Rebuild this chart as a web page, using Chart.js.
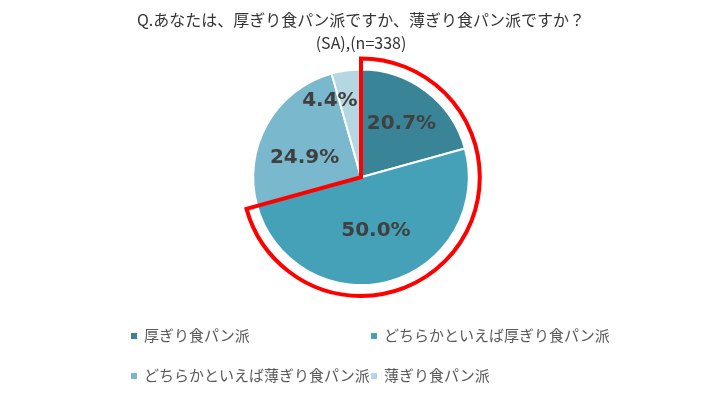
<!DOCTYPE html>
<html>
<head>
<meta charset="utf-8">
<script src="https://cdn.jsdelivr.net/npm/chart.js@4/dist/chart.umd.min.js"></script>
<style>
  body { margin: 0; background: #fff; }
  #wrap { position: relative; width: 720px; height: 405px; }
  #legend { position: absolute; left: 0; top: 0; width: 720px; height: 405px; pointer-events: none;
    font-family: "Noto Sans CJK JP", sans-serif; font-size: 15px; color: #595959; }
  .item { position: absolute; white-space: nowrap; line-height: 20px; }
  .box { display: inline-block; width: 6px; height: 6px; margin-right: 7px; vertical-align: middle; position: relative; top: -1px; }
</style>
</head>
<body>
<div id="wrap">
  <canvas id="myChart" width="720" height="405"></canvas>
  <div id="legend"></div>
</div>
<script>
'use strict'

const categories = ['厚ぎり食パン派', 'どちらかといえば厚ぎり食パン派', 'どちらかといえば薄ぎり食パン派', '薄ぎり食パン派'];
const shares = [20.7, 50.0, 24.9, 4.4];
const sliceColors = ['#3A8497', '#45A1B7', '#7AB8CE', '#B5D7E1'];
const titleLines = ['Q.あなたは、厚ぎり食パン派ですか、薄ぎり食パン派ですか？', '(SA),(n=338)'];

// where the labels sit, as a fraction of the radius, plus a nudge
const labelSpots = [
  { r: 0.62, dx: 0, dy: 0 },
  { r: 0.52, dx: 0, dy: 0 },
  { r: 0.6, dx: 0, dy: 12 },
  { r: 0.75, dx: -20, dy: 4 }
];

const pieExtras = {
  id: 'pieExtras',
  afterDatasetsDraw(chart) {
    const ctx = chart.ctx;
    const arcs = chart.getDatasetMeta(0).data;

    // red frame round the two "thick" slices
    const first = arcs[0];
    const second = arcs[1];
    const R = first.outerRadius + 11;
    ctx.save();
    ctx.beginPath();
    ctx.moveTo(first.x, first.y);
    ctx.arc(first.x, first.y, R, first.startAngle, second.endAngle);
    ctx.closePath();
    ctx.lineWidth = 4;
    ctx.lineJoin = 'miter';
    ctx.strokeStyle = '#FF0000';
    ctx.stroke();

    // percent labels
    ctx.font = 'bold 20px "DejaVu Sans", sans-serif';
    ctx.fillStyle = '#404040';
    ctx.textAlign = 'center';
    ctx.textBaseline = 'middle';
    arcs.forEach((arc, i) => {
      const mid = (arc.startAngle + arc.endAngle) / 2;
      const spot = labelSpots[i];
      const lx = arc.x + Math.cos(mid) * arc.outerRadius * spot.r + spot.dx;
      const ly = arc.y + Math.sin(mid) * arc.outerRadius * spot.r + spot.dy;
      ctx.fillText(shares[i].toFixed(1) + '%', lx, ly);
    });
    ctx.restore();
  }
};

const ctx = document.getElementById('myChart').getContext('2d');
const myChart = new Chart(ctx, {
  type: 'pie',
  data: {
    labels: categories,
    datasets: [{
      data: shares,
      backgroundColor: sliceColors,
      borderColor: '#ffffff',
      borderWidth: 2
    }]
  },
  options: {
    responsive: false,
    animation: false,
    layout: { padding: { top: 0, bottom: 119, left: 2, right: 0 } },
    plugins: {
      legend: { display: false },
      tooltip: { enabled: false },
      title: {
        display: true,
        text: titleLines,
        color: '#333333',
        font: { family: '"Noto Sans CJK JP", sans-serif', size: 16, weight: 'normal', lineHeight: 1.45 },
        padding: { top: 8, bottom: 14 }
      }
    }
  },
  plugins: [pieExtras]
});

// legend laid out in two columns like the original
const legendEl = document.getElementById('legend');
const legendSpots = [[131, 325], [371, 325], [131, 365], [371, 365]];
categories.forEach((name, i) => {
  const item = document.createElement('div');
  item.className = 'item';
  item.style.left = legendSpots[i][0] + 'px';
  item.style.top = legendSpots[i][1] + 'px';
  item.innerHTML = '<span class="box" style="background:' + sliceColors[i] + '"></span>' + name;
  legendEl.appendChild(item);
});
</script>
</body>
</html>
